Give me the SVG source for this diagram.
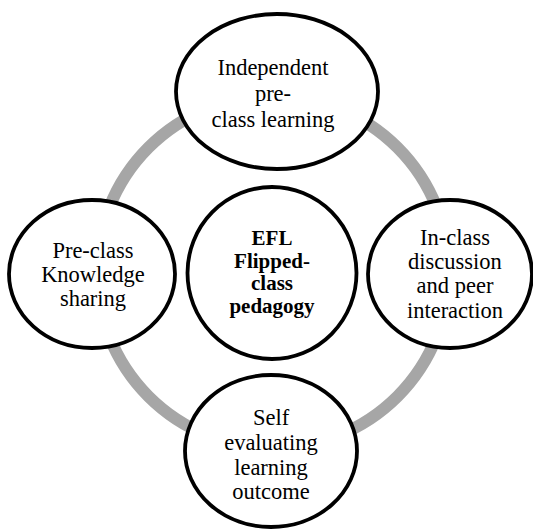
<svg xmlns="http://www.w3.org/2000/svg" width="533" height="530" viewBox="0 0 533 530">
<style>
.node{fill:#fff;stroke:#000;stroke-width:3.8}
.t{font-family:"Liberation Serif","Times New Roman",serif;font-size:22.5px;text-anchor:middle;fill:#000}
.b{font-weight:bold;font-size:21px}
.ring{fill:none;stroke:#a6a6a6;stroke-width:12}
</style>
<rect width="533" height="530" fill="#fff"/>
<g id="connectors">
<circle class="ring" cx="273" cy="272" r="176"/>
</g>
<g id="top">
<ellipse class="node" cx="277" cy="91.5" rx="101" ry="77.5"/>
<text class="t" x="273" y="75">Independent</text>
<text class="t" x="273" y="101">pre-</text>
<text class="t" x="273" y="127">class learning</text>
</g>
<g id="left">
<ellipse class="node" cx="92" cy="274" rx="83" ry="74"/>
<text class="t" x="93" y="258">Pre-class</text>
<text class="t" x="93" y="282">Knowledge</text>
<text class="t" x="93" y="306">sharing</text>
</g>
<g id="right">
<ellipse class="node" cx="450" cy="274" rx="82" ry="74"/>
<text class="t" x="455" y="245">In-class</text>
<text class="t" x="455" y="269">discussion</text>
<text class="t" x="455" y="293">and peer</text>
<text class="t" x="455" y="318">interaction</text>
</g>
<g id="bottom">
<ellipse class="node" cx="271" cy="451" rx="86" ry="76"/>
<text class="t" x="271" y="425">Self</text>
<text class="t" x="271" y="450">evaluating</text>
<text class="t" x="271" y="475">learning</text>
<text class="t" x="271" y="499">outcome</text>
</g>
<g id="center">
<ellipse class="node" cx="272" cy="273" rx="84.5" ry="86"/>
<text class="t b" x="272" y="245">EFL</text>
<text class="t b" x="272" y="268">Flipped-</text>
<text class="t b" x="272" y="290">class</text>
<text class="t b" x="272" y="313">pedagogy</text>
</g>
</svg>
